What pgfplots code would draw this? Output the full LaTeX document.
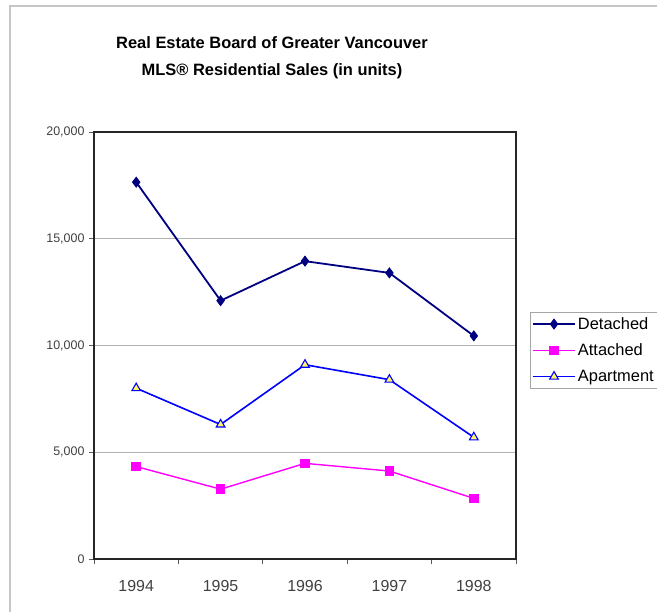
\documentclass[border=0pt]{standalone}
\usepackage{fontspec}
\setmainfont{Liberation Sans}
\usepackage{pgfplots}
\pgfplotsset{compat=1.18}
\definecolor{det}{RGB}{0,0,128}
\definecolor{att}{RGB}{255,0,255}
\definecolor{apt}{RGB}{0,0,255}
\begin{document}
\begin{tikzpicture}[x=1bp,y=1bp]
\begin{axis}[
  at={(0,0)}, anchor=south west,
  width=422bp, height=427bp, scale only axis,
  xmin=-0.5, xmax=4.5, ymin=0, ymax=20000,
  xtick={0,1,2,3,4}, xticklabels={1994,1995,1996,1997,1998},
  minor xtick={-0.5,0.5,1.5,2.5,3.5,4.5},
  xtick pos=bottom, ytick pos=left,
  major x tick style={draw=none},
  minor x tick style={gray!70!black, line width=0.8bp},
  minor tick length=5bp,
  ytick={0,5000,10000,15000,20000},
  major y tick style={gray!70!black, line width=0.8bp},
  major tick length=5bp,
  tick align=outside,
  ymajorgrids, grid style={gray!60, line width=0.8bp},
  axis line style={black!85, line width=1.3bp},
  scaled ticks=false,
  /pgf/number format/1000 sep={,},
  /pgf/number format/assume math mode=true,
  yticklabel style={font=\fontsize{12.5}{14}\selectfont, text=black!75, xshift=-1bp},
  xticklabel style={font=\fontsize{16}{18}\selectfont, text=black!75, yshift=-13bp},
  legend style={at={(1.033,0.578)}, anchor=north west, draw=gray!70,
    font=\fontsize{16.5}{19}\selectfont, row sep=9bp, inner xsep=2bp, inner ysep=3bp,
    /tikz/every even column/.append style={column sep=1bp}},
  legend cell align=left,
  legend image code/.code={\draw[mark repeat=2,mark phase=2] plot coordinates {(0bp,0bp)(21bp,0bp)(42bp,0bp)};},
  clip=false,
]
\addplot[det, line width=1.8bp, mark=diamond*, mark size=5bp, mark options={fill=det, line width=0.8bp}]
  coordinates {(0,17650) (1,12100) (2,13950) (3,13400) (4,10450)};
\addlegendentry{Detached}
\addplot[att, line width=1.4bp, mark=square*, mark size=4bp, mark options={fill=att}]
  coordinates {(0,4330) (1,3270) (2,4480) (3,4120) (4,2840)};
\addlegendentry{Attached}
\addplot[apt, line width=1.6bp, mark=triangle*, mark size=5bp, mark options={fill=yellow!60!white, draw=apt, line width=1.1bp}]
  coordinates {(0,8000) (1,6300) (2,9100) (3,8400) (4,5700)};
\addlegendentry{Apartment}
\end{axis}
\pgfresetboundingbox
\useasboundingbox (-94,-53) rectangle (563,559);
\draw[gray!45, line width=1.5bp] (-84,-80) -- (-84,553) -- (620,553);
\node[font=\bfseries\fontsize{16.5}{27}\selectfont, align=center] at (178,501) {Real Estate Board of Greater Vancouver\\MLS® Residential Sales (in units)};
\end{tikzpicture}
\end{document}
